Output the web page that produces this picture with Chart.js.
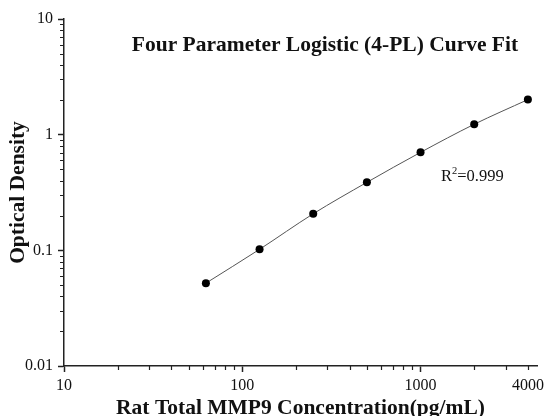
<!DOCTYPE html>
<html>
<head>
  <meta charset="UTF-8" />
  <title>4-PL Curve Fit</title>
  <script src="https://cdn.jsdelivr.net/npm/chart.js"></script>
  <style>
    html, body { margin: 0; padding: 0; background: #fff; }
    #wrap { width: 546px; height: 416px; }
  </style>
</head>
<body>
<div id="wrap"><canvas id="curveChart"></canvas></div>

<script>
  // 1) Data
  const concentrations = [62.5, 125, 250, 500, 1000, 2000, 4000];
  const opticalDensity = [0.052, 0.102, 0.207, 0.387, 0.703, 1.23, 2.01];

  // tick values
  const xMajorTicks = [10, 100, 1000, 4000];
  const xMinorTicks = [20, 30, 40, 50, 60, 70, 80, 90, 200, 300, 400, 500, 600, 700, 800, 900, 2000, 3000, 4000];
  const yMajorTicks = [0.01, 0.1, 1, 10];
  const yMinorTicks = [0.02, 0.03, 0.04, 0.05, 0.06, 0.07, 0.08, 0.09,
                       0.2, 0.3, 0.4, 0.5, 0.6, 0.7, 0.8, 0.9,
                       2, 3, 4, 5, 6, 7, 8, 9];

  const titleText = 'Four Parameter Logistic (4-PL) Curve Fit';
  const fitText = '0.999';

  const serif = '"Liberation Serif", "Times New Roman", serif';
  const axisColor = '#222';

  // 2) small plugin: short minor ticks + title + R^2 note
  const extras = {
    id: 'extras',
    afterDraw(chart) {
      const { ctx, chartArea, scales } = chart;
      const xs = scales.x, ys = scales.y;
      ctx.save();
      ctx.strokeStyle = axisColor;
      ctx.lineWidth = 1.2;
      ctx.beginPath();
      xMinorTicks.forEach(v => {
        const px = Math.round(xs.getPixelForValue(v)) + 0.5;
        ctx.moveTo(px, chartArea.bottom);
        ctx.lineTo(px, chartArea.bottom + 4);
      });
      yMinorTicks.forEach(v => {
        const py = Math.round(ys.getPixelForValue(v)) + 0.5;
        ctx.moveTo(chartArea.left, py);
        ctx.lineTo(chartArea.left - 4, py);
      });
      ctx.stroke();

      // title inside plot
      ctx.fillStyle = '#111';
      ctx.font = 'bold 21.5px ' + serif;
      ctx.textAlign = 'center';
      ctx.textBaseline = 'middle';
      ctx.fillText(titleText, 325, 45);

      // R^2 label
      ctx.font = '16.5px ' + serif;
      ctx.textAlign = 'left';
      ctx.textBaseline = 'alphabetic';
      let x = 441, y = 181;
      ctx.fillText('R', x, y);
      x += ctx.measureText('R').width;
      ctx.font = '10.5px ' + serif;
      ctx.fillText('2', x, y - 7);
      x += ctx.measureText('2').width;
      ctx.font = '16.5px ' + serif;
      ctx.fillText('=' + fitText, x, y);
      ctx.restore();
    }
  };

  // 3) chart
  const ctx = document.getElementById('curveChart').getContext('2d');
  const myChart = new Chart(ctx, {
    type: 'line',
    data: {
      datasets: [{
        data: concentrations.map((c, i) => ({ x: c, y: opticalDensity[i] })),
        borderColor: '#555',
        borderWidth: 1,
        pointRadius: 4,
        pointBackgroundColor: '#000',
        pointBorderWidth: 0,
        cubicInterpolationMode: 'monotone',
        fill: false
      }]
    },
    options: {
      responsive: true,
      maintainAspectRatio: false,
      animation: false,
      layout: { padding: { top: 19, right: 9, left: 0, bottom: 0 } },
      plugins: {
        legend: { display: false },
        tooltip: { enabled: false }
      },
      scales: {
        x: {
          type: 'logarithmic',
          min: 10,
          max: 4500,
          afterBuildTicks: s => { s.ticks = xMajorTicks.map(v => ({ value: v })); },
          afterFit: s => { s.height = 50; s.paddingLeft = 0; s.paddingRight = 0; },
          border: { display: true, color: axisColor, width: 1.5 },
          grid: {
            drawOnChartArea: false,
            drawTicks: true,
            tickLength: 6,
            tickWidth: 1.5,
            tickColor: c => (c.tick && c.tick.value === 4000) ? 'rgba(0,0,0,0)' : axisColor
          },
          ticks: {
            autoSkip: false,
            maxRotation: 0,
            padding: 4,
            color: '#111',
            font: { family: serif, size: 16 },
            callback: v => String(v)
          },
          title: {
            display: true,
            text: 'Rat Total MMP9 Concentration(pg/mL)',
            color: '#111',
            font: { family: serif, size: 21.5, weight: 'bold', lineHeight: 1 },
            padding: { top: 0, bottom: -3 }
          }
        },
        y: {
          type: 'logarithmic',
          min: 0.01,
          max: 10,
          afterBuildTicks: s => { s.ticks = yMajorTicks.map(v => ({ value: v })); },
          afterFit: s => { s.width = 64; s.paddingTop = 0; s.paddingBottom = 0; },
          border: { display: true, color: axisColor, width: 1.5 },
          grid: {
            drawOnChartArea: false,
            drawTicks: true,
            tickLength: 6,
            tickWidth: 1.5,
            tickColor: axisColor
          },
          ticks: {
            autoSkip: false,
            padding: 5,
            color: '#111',
            font: { family: serif, size: 16 },
            callback: v => String(v)
          },
          title: {
            display: true,
            text: 'Optical Density',
            color: '#111',
            font: { family: serif, size: 21.5, weight: 'bold' },
            padding: { top: 6, bottom: 0 }
          }
        }
      }
    },
    plugins: [extras]
  });
</script>
</body>
</html>
